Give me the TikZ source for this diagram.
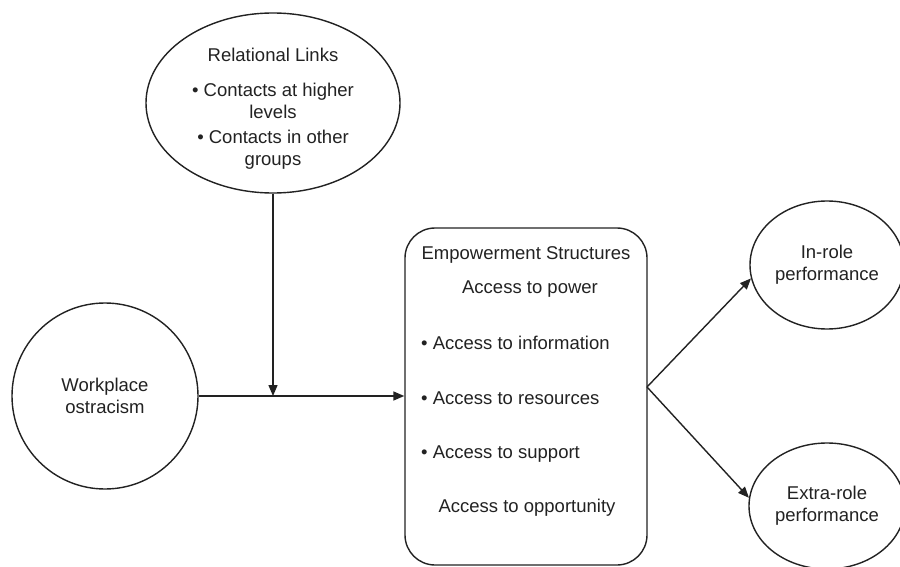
\documentclass[tikz,border=0pt]{standalone}
\usepackage{fontspec}
\setmainfont{Liberation Sans}
\usetikzlibrary{shapes.geometric,arrows.meta}
\definecolor{ink}{HTML}{222222}
\tikzset{
  every node/.style={font=\fontsize{18.5}{22}\selectfont, text=ink},
  shapeline/.style={draw=ink, line width=1.4pt, inner sep=0pt},
  oval/.style={shapeline, ellipse, align=center},
  conn/.style={draw=ink, line width=1.4pt},
  arr/.style={conn, -{Triangle[length=11pt,width=9pt]}},
  boxtxt/.style={inner sep=0pt, align=center},
}
\begin{document}
\begin{tikzpicture}[x=1pt,y=-1pt]
\clip (0,0) rectangle (900,567);
\fill[white] (0,0) rectangle (900,567);
% nodes
\node[oval, minimum width=254pt, minimum height=180pt] (rel) at (273,103) {};
\node[boxtxt] (relt) at (273,109)
  {Relational Links\\[13pt]\textbullet\ Contacts at higher\\levels\\[3pt]\textbullet\ Contacts in other\\groups};
\node[oval, circle, minimum size=186pt] (wo) at (105,396) {Workplace\\ostracism};
\node[shapeline, rectangle, rounded corners=30pt, minimum width=242pt, minimum height=337pt] (emp) at (526,396.5) {};
\node[boxtxt] (t1) at (526,255) {Empowerment Structures};
\node[boxtxt] (t2) at (530,289) {Access to power};
\node[boxtxt, anchor=west] (t3) at (421,343) {\textbullet\ Access to information};
\node[boxtxt, anchor=west] (t4) at (421,398) {\textbullet\ Access to resources};
\node[boxtxt, anchor=west] (t5) at (421,454) {\textbullet\ Access to support};
\node[boxtxt] (t6) at (527,508) {Access to opportunity};
\node[oval, minimum width=154pt, minimum height=128pt] (inr) at (827,265) {In-role\\performance};
\node[oval, minimum width=156pt, minimum height=126pt] (ext) at (827,506) {Extra-role\\performance};
% connectors
\coordinate (j) at (273,396);
\coordinate (s) at (647,387);
\draw[arr] (wo.east) -- (emp.west |- wo.east);
\draw[arr] (rel.south) -- (j);
\draw[arr] (s) -- (inr.190);
\draw[arr] (s) -- (ext.174);
\end{tikzpicture}
\end{document}
